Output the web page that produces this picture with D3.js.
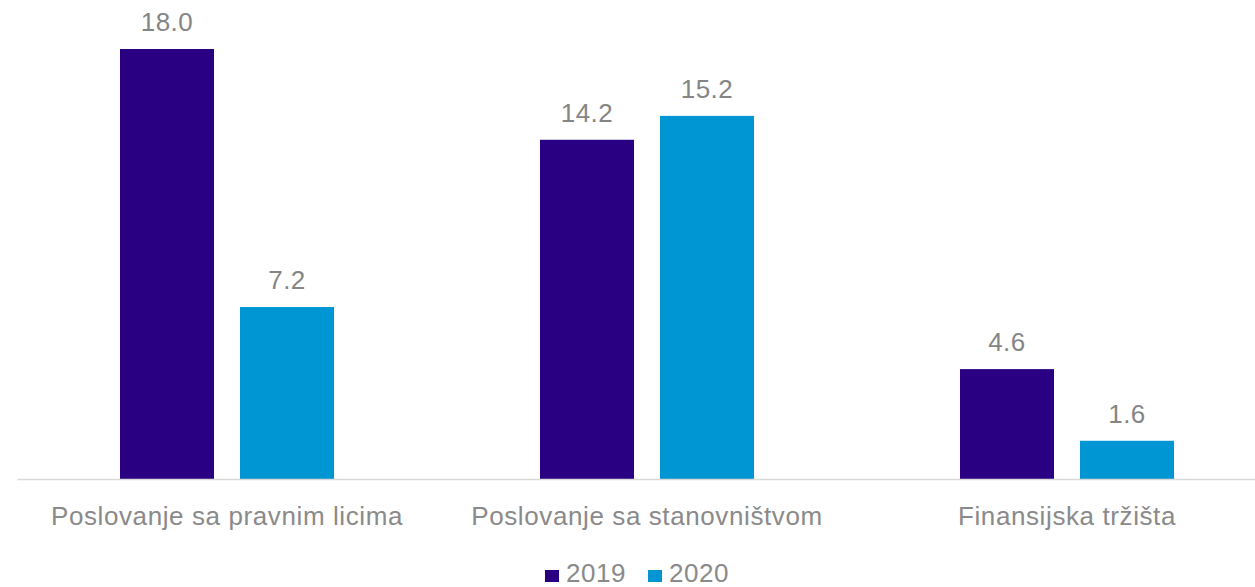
<!DOCTYPE html>
<html><head><meta charset="utf-8">
<script src="https://cdn.jsdelivr.net/npm/d3@7"></script>
<style>body{margin:0;background:#fff;}svg{display:block;font-family:"Liberation Sans",Arial,sans-serif;}</style>
</head><body><svg id="c" width="1255" height="587"></svg>
<script>
const categories = ["Poslovanje sa pravnim licima", "Poslovanje sa stanovništvom", "Finansijska tržišta"];
const seriesNames = ["2019", "2020"];
const values2019 = [18.0, 14.2, 4.6];
const values2020 = [7.2, 15.2, 1.6];
const colors = ["#2a0082", "#0095d3"];

const svg = d3.select("#c");
const baseY = 479;
const x0 = d3.scaleBand().domain(categories).range([17, 1277]).padding(0);
const x1 = d3.scaleBand().domain(seriesNames).range([0, x0.bandwidth()]).paddingInner(26/120).paddingOuter(0.858);
const y = d3.scaleLinear().domain([0, 18]).range([baseY, 49]);

const data = categories.map((c, i) => ({cat: c, vals: [values2019[i], values2020[i]]}));

const g = svg.selectAll("g.grp").data(data).join("g").attr("class","grp")
  .attr("transform", d => `translate(${x0(d.cat)},0)`);
g.selectAll("rect").data(d => d.vals.map((v, j) => ({s: seriesNames[j], v, j})))
  .join("rect")
  .attr("x", d => x1(d.s)).attr("width", x1.bandwidth())
  .attr("y", d => y(d.v)).attr("height", d => baseY - y(d.v))
  .attr("fill", d => colors[d.j]);
g.selectAll("text.val").data(d => d.vals.map((v, j) => ({s: seriesNames[j], v, j})))
  .join("text").attr("class","val")
  .attr("x", d => x1(d.s) + x1.bandwidth()/2).attr("y", d => y(d.v) - 18)
  .attr("text-anchor","middle").attr("font-size", 26).attr("letter-spacing", 0.5).attr("fill","#858585")
  .text(d => d.v.toFixed(1));

const axis = d3.axisBottom(x0).tickSize(0).tickPadding(28);
const ax = svg.append("g").attr("transform", `translate(0,${baseY})`).call(axis);
ax.select(".domain").attr("stroke","#d9d9d9").attr("stroke-width",1.5);
ax.selectAll("text").attr("font-size", 26).attr("letter-spacing", 0.6).attr("fill","#8a8a8a").attr("font-family","Liberation Sans, Arial, sans-serif");

// legend
const leg = svg.append("g").attr("transform","translate(545,582)");
const items = [{n:"2019", x:0},{n:"2020", x:103}];
items.forEach((it, i) => {
  leg.append("rect").attr("x", it.x).attr("y", -12).attr("width", 14).attr("height", 12).attr("fill", colors[i]);
  leg.append("text").attr("x", it.x + 21).attr("y", 0).attr("font-size", 26).attr("letter-spacing", 0.5).attr("fill","#8a8a8a").text(it.n);
});
</script></body></html>
